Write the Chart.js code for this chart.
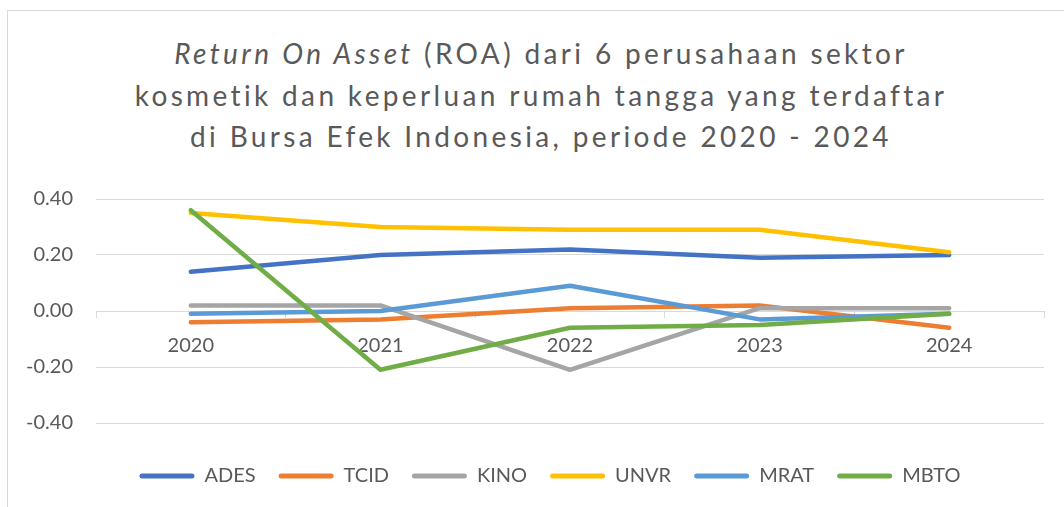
<!DOCTYPE html>
<html>
<head>
<meta charset="utf-8">
<script src="https://cdn.jsdelivr.net/npm/chart.js@4.4.1/dist/chart.umd.min.js"></script>
<style>
  html, body { margin: 0; padding: 0; background: #ffffff; }
  #wrap { position: relative; width: 1064px; height: 507px; overflow: hidden; }
  #frame { position: absolute; left: 7px; top: 10px; width: 1200px; height: 600px; border: 1px solid #d9d9d9; box-sizing: border-box; }
  #title { position: absolute; left: 0; top: 33px; width: 1082px; text-align: center; color: #595959;
           font-family: Lato, "Open Sans", sans-serif; font-size: 28px; line-height: 41.5px; letter-spacing: 3.35px; white-space: nowrap; }
  canvas { position: absolute; left: 0; top: 0; }
</style>
</head>
<body>
<div id="wrap">
  <div id="frame"></div>
  <div id="title">
    <div><i>Return On Asset</i> (ROA) dari 6 perusahaan sektor</div>
    <div>kosmetik dan keperluan rumah tangga yang terdaftar</div>
    <div>di Bursa Efek Indonesia, periode 2020 - 2024</div>
  </div>
  <canvas id="c" width="1064" height="507"></canvas>
</div>
<script>
const years = ['2020', '2021', '2022', '2023', '2024'];
const ADES = [0.14, 0.20, 0.22, 0.19, 0.20];
const TCID = [-0.04, -0.03, 0.01, 0.02, -0.06];
const KINO = [0.02, 0.02, -0.21, 0.01, 0.01];
const UNVR = [0.35, 0.30, 0.29, 0.29, 0.21];
const MRAT = [-0.01, 0.00, 0.09, -0.03, -0.01];
const MBTO = [0.36, -0.21, -0.06, -0.05, -0.01];
const seriesNames = ['ADES', 'TCID', 'KINO', 'UNVR', 'MRAT', 'MBTO'];
const seriesData = [ADES, TCID, KINO, UNVR, MRAT, MBTO];
const seriesColors = ['#4472C4', '#ED7D31', '#A5A5A5', '#FFC000', '#5B9BD5', '#70AD47'];
const yTicks = [-0.4, -0.2, 0, 0.2, 0.4];

const FONT = 'Lato, "Open Sans", sans-serif';
const TXT = '#595959';
const GRID = '#d9d9d9';

const datasets = seriesNames.map((name, i) => ({
  label: name,
  data: seriesData[i],
  borderColor: seriesColors[i],
  backgroundColor: seriesColors[i],
  borderWidth: 4.5,
  borderCapStyle: 'round',
  borderJoinStyle: 'round',
  pointRadius: 0,
  pointHoverRadius: 0,
  tension: 0,
  fill: false,
  order: seriesNames.length - i
}));

new Chart(document.getElementById('c'), {
  type: 'line',
  data: { labels: years, datasets },
  options: {
    responsive: false,
    animation: false,
    events: [],
    layout: { padding: { top: 199, left: 56, right: 20, bottom: 11 } },
    scales: {
      x: {
        type: 'category',
        position: { y: 0 },
        offset: true,
        afterFit: s => { s.height = 0; },
        grid: { drawOnChartArea: false, drawTicks: true, tickLength: 6, color: GRID, offset: true },
        border: { display: true, color: GRID, width: 1 },
        ticks: { color: TXT, font: { family: FONT, size: 20 }, padding: 17, maxRotation: 0 }
      },
      y: {
        min: -0.4, max: 0.4,
        afterFit: s => { s.width = 40; s._computeLabelArea = () => undefined; },
        afterBuildTicks: s => { s.ticks = yTicks.map(v => ({ value: v })); },
        grid: { color: GRID, lineWidth: 1, drawTicks: false },
        border: { display: false },
        ticks: {
          color: TXT, font: { family: FONT, size: 20 }, padding: 23,
          callback: v => (Math.abs(v) < 1e-9 ? 0 : v).toFixed(2)
        }
      }
    },
    plugins: {
      title: { display: false },
      tooltip: { enabled: false },
      legend: {
        position: 'bottom',
        reverse: true,
        title: { display: true, text: '', font: { size: 1, lineHeight: 1 }, padding: { top: 19, bottom: 0 } },
        labels: {
          color: TXT,
          font: { family: FONT, size: 20 },
          boxWidth: 55,
          boxHeight: 5,
          useBorderRadius: true,
          borderRadius: 2.5,
          padding: 23,
          generateLabels: chart => Chart.defaults.plugins.legend.labels.generateLabels(chart).map(l => Object.assign(l, { lineWidth: 0 }))
        }
      }
    }
  }
});
</script>
</body>
</html>
